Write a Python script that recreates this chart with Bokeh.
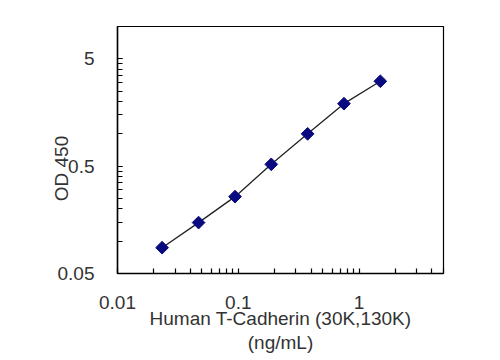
from bokeh.plotting import figure
from bokeh.models import FixedTicker, ColumnDataSource
from bokeh.embed import file_html
from bokeh.resources import INLINE

# Data
concentration = [0.0234, 0.0469, 0.094, 0.1875, 0.375, 0.75, 1.5]
od450 = [0.087, 0.149, 0.26, 0.52, 1.0, 1.91, 3.09]

x_major = [0.01, 0.1, 1]
y_major = [0.05, 0.5, 5]
x_labels = {0.01: "0.01", 0.1: "0.1", 1: "1"}
y_labels = {0.05: "0.05", 0.5: "0.5", 5: "5"}

x_minor = [m * d for d in (0.01, 0.1) for m in range(2, 10)] + [2, 3, 4, 5]
y_minor = [m * d for d in (0.05, 0.5) for m in range(2, 11)] + [10]

p = figure(width=492, height=358, x_axis_type="log", y_axis_type="log",
           x_range=(0.01, 5), y_range=(0.05, 10),
           output_backend="svg", toolbar_location=None,
           min_border_left=117, min_border_right=49,
           min_border_top=26, min_border_bottom=85)

p.grid.visible = False
p.outline_line_color = "black"
p.outline_line_width = 1.2
p.background_fill_color = "white"

src = ColumnDataSource(dict(x=concentration, y=od450))
p.line("x", "y", source=src, line_color="#222222", line_width=1.3)
p.scatter("x", "y", source=src, marker="square", angle=0.785398, size=9,
          fill_color="#0a0a80", line_color="#0a0a80")

for ax, major, minor, labels in ((p.xaxis[0], x_major, x_minor, x_labels),
                                 (p.yaxis[0], y_major, y_minor, y_labels)):
    ax.ticker = FixedTicker(ticks=major, minor_ticks=minor)
    ax.major_label_overrides = labels
    ax.major_tick_in = 5
    ax.major_tick_out = 0
    ax.minor_tick_in = 5
    ax.minor_tick_out = 0
    ax.axis_line_width = 1.5
    ax.axis_line_color = "black"
    ax.major_tick_line_color = "black"
    ax.minor_tick_line_color = "black"
    ax.major_tick_line_width = 1.2
    ax.minor_tick_line_width = 1.2
    ax.major_label_text_font = "Liberation Sans"
    ax.major_label_text_font_size = "19px"
    ax.major_label_text_color = "#333333"
    ax.axis_label_text_font = "Liberation Sans"
    ax.axis_label_text_font_size = "19px"
    ax.axis_label_text_font_style = "normal"
    ax.axis_label_text_color = "#333333"

p.xaxis.axis_label = "Human T-Cadherin (30K,130K)\n(ng/mL)"
p.xaxis.axis_label_text_line_height = 1.15
p.yaxis.axis_label = "OD 450" + "\u00a0" * 7
p.xaxis.major_label_standoff = 22
p.yaxis.major_label_standoff = 23
p.xaxis.axis_label_standoff = -4
p.yaxis.axis_label_standoff = -17

open("out.html", "w").write(file_html(p, INLINE))
